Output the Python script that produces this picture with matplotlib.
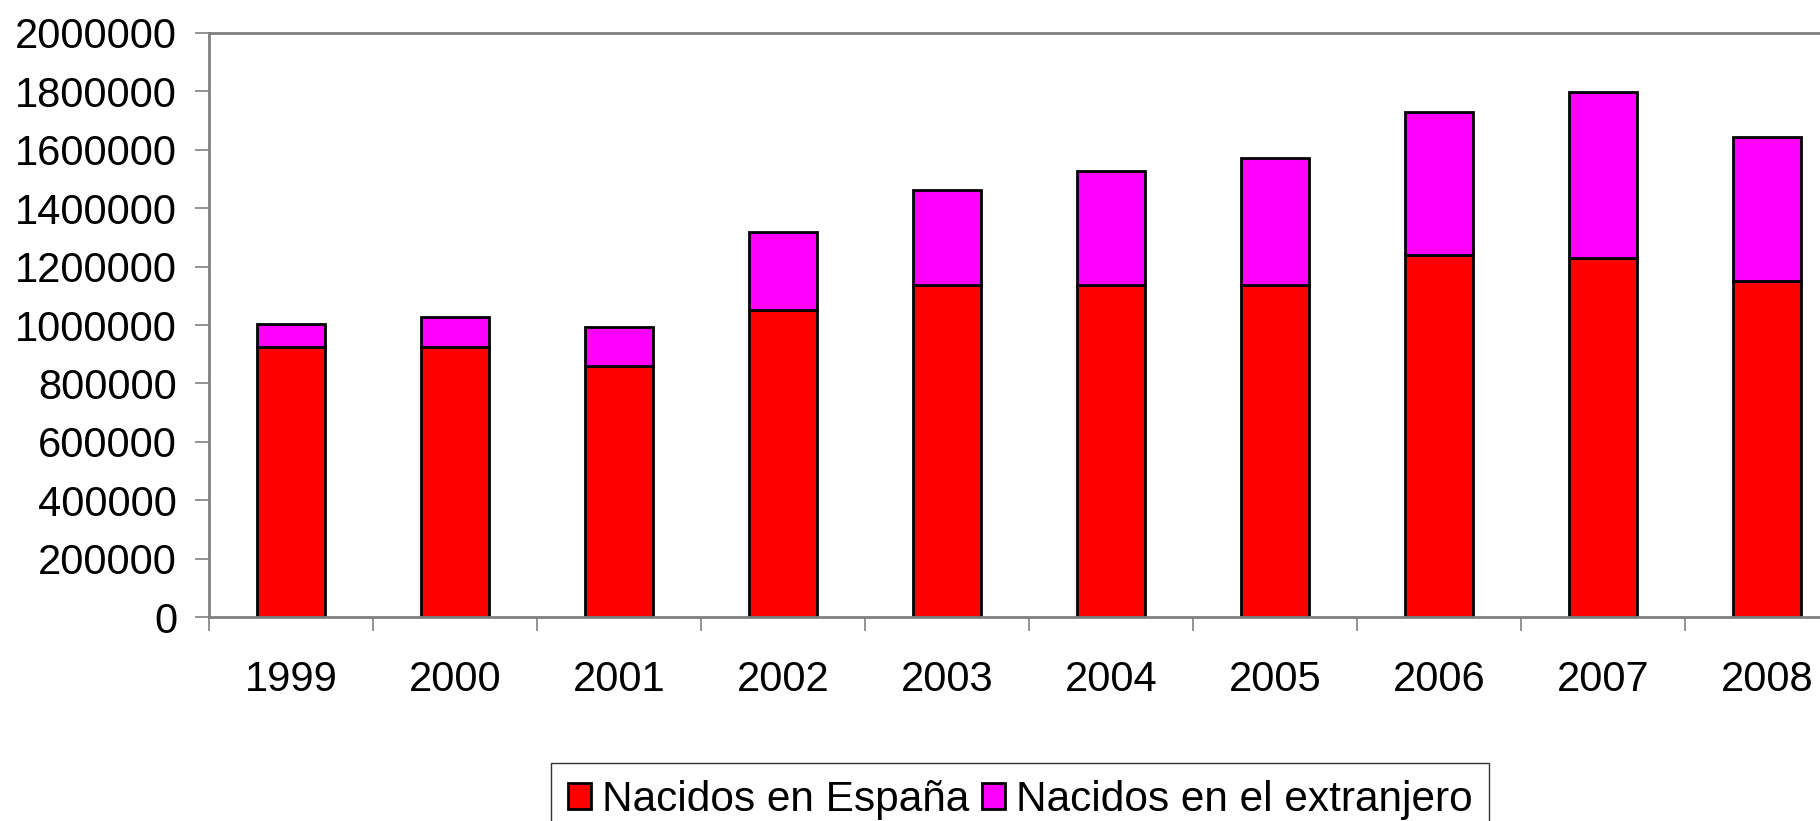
import matplotlib
matplotlib.use("Agg")
from matplotlib import pyplot as plt
import numpy as np

years = ['1999', '2000', '2001', '2002', '2003', '2004', '2005', '2006', '2007', '2008']
nacidos_espana = [926000, 926000, 860000, 1050000, 1138000, 1138000, 1137000, 1240000, 1229000, 1151000]
nacidos_total = [1003000, 1026000, 994000, 1318000, 1462000, 1528000, 1573000, 1730000, 1797000, 1643000]
nacidos_extranjero = [t - e for t, e in zip(nacidos_total, nacidos_espana)]

plt.rcParams['font.family'] = ['Liberation Sans', 'DejaVu Sans']

fig = plt.figure(figsize=(18.2, 8.21), dpi=100)
ax = fig.add_axes([209 / 1820, 1 - 617 / 821, 1640 / 1820, 584 / 821])

x = np.arange(len(years))
ax.bar(x, nacidos_espana, width=0.42, color='#FF0000', edgecolor='black', linewidth=2,
       label='Nacidos en España')
ax.bar(x, nacidos_extranjero, width=0.42, bottom=nacidos_espana, color='#FF00FF',
       edgecolor='black', linewidth=2, label='Nacidos en el extranjero')

ax.set_xlim(-0.5, len(years) - 0.5)
ax.set_ylim(0, 2000000)
ax.set_yticks(range(0, 2000001, 200000))
ax.set_yticklabels([str(v) for v in range(0, 2000001, 200000)])

ax.set_xticks(x)
ax.set_xticklabels(years)
ax.set_xticks(np.arange(-0.5, len(years), 1), minor=True)
ax.tick_params(axis='x', which='major', length=0, pad=31, labelsize=30)
ax.tick_params(axis='x', which='minor', length=10, width=1.2, color='#808080', direction='out')
ax.tick_params(axis='y', length=10, width=1.2, color='#808080', direction='out', pad=13, labelsize=30)

for s in ax.spines.values():
    s.set_color('#808080')
    s.set_linewidth(2)

leg = fig.legend(loc='upper center', bbox_to_anchor=(1020 / 1820, 1 - 763 / 821), ncol=2,
                 fontsize=30.5, frameon=True, fancybox=False, edgecolor='black',
                 handlelength=0.55, handleheight=0.55, handletextpad=0.25,
                 columnspacing=0.3, borderpad=0.4, borderaxespad=0)
leg.get_frame().set_linewidth(1)

fig.savefig('out.png', dpi=100)
